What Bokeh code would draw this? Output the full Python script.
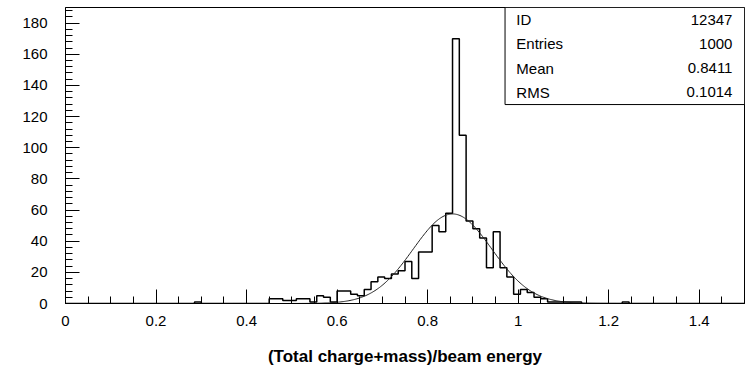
import numpy as np
from bokeh.plotting import figure
from bokeh.models import Range1d, FixedTicker
from bokeh.core.properties import value
from bokeh.embed import file_html
from bokeh.resources import INLINE

# Histogram booking: 100 equal bins over [0, 1.5]
X_MIN, X_MAX, N_BINS = 0.0, 1.5, 100
Y_MAX = 190

# Entries per bin, ten bins per row
counts = [
    0, 0, 0, 0, 0, 0, 0, 0, 0, 0,
    0, 0, 0, 0, 0, 0, 0, 0, 0, 1,
    0, 0, 0, 0, 0, 0, 0, 0, 0, 0,
    3, 3, 2, 2, 3, 3, 1, 5, 4, 1,
    8, 8, 6, 5, 9, 14, 17, 16, 19, 21,
    27, 16, 33, 33, 50, 46, 58, 170, 108, 53,
    48, 42, 23, 46, 23, 17, 6, 9, 7, 4,
    3, 1, 1, 1, 1, 1, 0, 0, 0, 0,
    0, 0, 1, 0, 0, 0, 0, 0, 0, 0,
    0, 0, 0, 0, 0, 0, 0, 0, 0, 0,
]

# Gaussian fit parameters
fit_constant = 57.5
fit_mean = 0.855
fit_sigma = 0.087

# Statistics box
stat_names = ["ID", "Entries", "Mean", "RMS"]
stat_values = ["12347", "1000", "0.8411", "0.1014"]

# Axis ticks
x_major = [0.0, 0.2, 0.4, 0.6, 0.8, 1.0, 1.2, 1.4]
x_labels = ["0", "0.2", "0.4", "0.6", "0.8", "1", "1.2", "1.4"]
x_minor = [round(0.05 * i, 2) for i in range(31)]
y_major = list(range(0, 181, 20))
y_minor = list(range(0, 189, 4))

x_title = "(Total charge+mass)/beam energy"

FONT = "Liberation Sans"

p = figure(
    width=745, height=369,
    x_range=Range1d(X_MIN, X_MAX), y_range=Range1d(0, Y_MAX),
    output_backend="svg", toolbar_location=None,
    min_border_left=65, min_border_right=1,
    min_border_top=7, min_border_bottom=66,
)
p.grid.visible = False
p.background_fill_color = "white"
p.border_fill_color = "white"
p.outline_line_color = "black"
p.outline_line_width = 1

# histogram outline
edges = np.linspace(X_MIN, X_MAX, N_BINS + 1)
step_y = list(counts) + [counts[-1]]
p.step(edges, step_y, mode="after", line_color="black", line_width=1.5)

# fitted gaussian
xf = np.linspace(X_MIN, X_MAX, 600)
yf = fit_constant * np.exp(-0.5 * ((xf - fit_mean) / fit_sigma) ** 2)
p.line(xf, yf, line_color="#222222", line_width=1)

# statistics box (data-space placement)
box_left, box_bottom = 0.971, 127.7
p.quad(left=[box_left], right=[X_MAX], bottom=[box_bottom], top=[Y_MAX],
       fill_color="white", line_color="black", line_width=1)
row_y = [182.2, 166.6, 151.1, 135.5]
p.text(x=[0.996] * 4, y=row_y, text=stat_names,
       text_font=value(FONT), text_font_size="15px",
       text_align="left", text_baseline="middle", text_color="black")
p.text(x=[1.4734] * 4, y=row_y, text=stat_values,
       text_font=value(FONT), text_font_size="15px",
       text_align="right", text_baseline="middle", text_color="black")

# axes
for ax in (p.xaxis[0], p.yaxis[0]):
    ax.axis_line_color = "black"
    ax.axis_line_width = 1
    ax.major_tick_in = 14
    ax.major_tick_out = 0
    ax.minor_tick_in = 7
    ax.minor_tick_out = 0
    ax.major_tick_line_color = "black"
    ax.minor_tick_line_color = "black"
    ax.major_label_text_font = FONT
    ax.major_label_text_font_size = "15px"
    ax.major_label_text_color = "black"

p.xaxis.ticker = FixedTicker(ticks=x_major, minor_ticks=x_minor)
p.xaxis.major_label_overrides = {t: s for t, s in zip(x_major, x_labels)}
p.xaxis.major_label_standoff = 12
p.xaxis.axis_label = x_title
p.xaxis.axis_label_text_font = FONT
p.xaxis.axis_label_text_font_size = "17px"
p.xaxis.axis_label_text_font_style = "bold"
p.xaxis.axis_label_text_color = "black"
p.xaxis.axis_label_text_line_height = 0.8
p.xaxis.axis_label_standoff = 18
p.yaxis.ticker = FixedTicker(ticks=y_major, minor_ticks=y_minor)
p.yaxis.major_label_standoff = 18

open("out.html", "w").write(file_html(p, INLINE))
